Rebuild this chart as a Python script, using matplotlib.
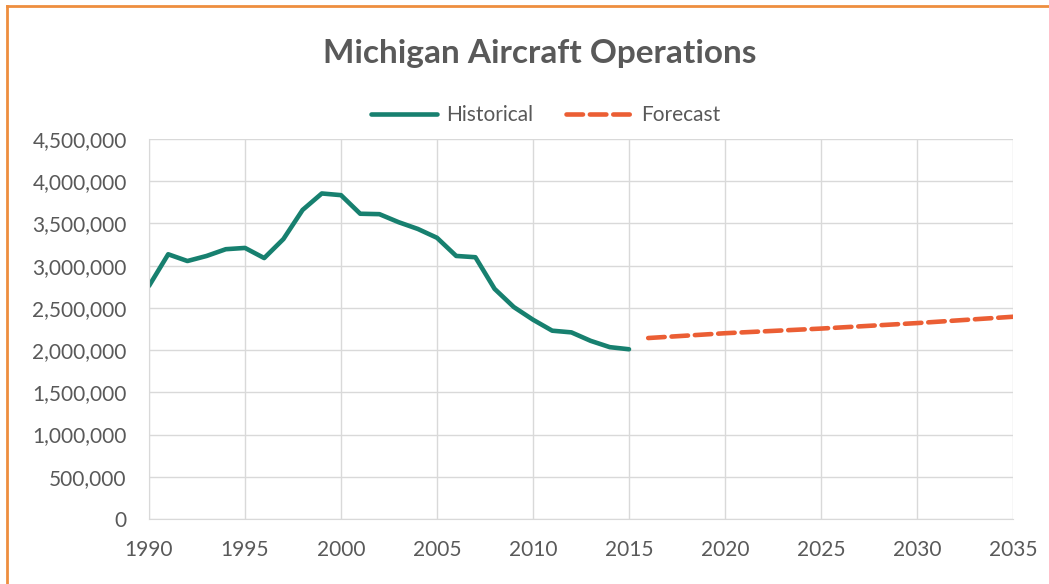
import matplotlib.pyplot as plt
from matplotlib.lines import Line2D
from matplotlib.ticker import FuncFormatter, MultipleLocator

# data
hist_years = list(range(1990, 2016))
hist_ops = [2760000, 3135000, 3055000, 3115000, 3195000, 3210000, 3090000, 3315000,
            3660000, 3855000, 3835000, 3615000, 3610000, 3515000, 3435000, 3330000,
            3115000, 3100000, 2725000, 2510000, 2360000, 2230000, 2210000, 2110000,
            2035000, 2010000]
fc_years = [2016, 2020, 2025, 2030, 2035]
fc_ops = [2143000, 2200000, 2255000, 2320000, 2395000]

grey = '#595959'
plt.rcParams['font.family'] = ['Lato', 'DejaVu Sans']

fig = plt.figure(figsize=(10.49, 5.84), dpi=100)
ax = fig.add_axes([149 / 1049, 1 - 519 / 584, (1013 - 149) / 1049, (519 - 139) / 584])

ax.plot(hist_years, hist_ops, color='#17806f', lw=3.3, label='Historical',
        solid_capstyle='round', solid_joinstyle='round')
ax.plot(fc_years, fc_ops, color='#eb5e34', lw=3.3, label='Forecast',
        dashes=(3.6, 1.5), dash_capstyle='round')

ax.set_xlim(1990, 2035)
ax.set_ylim(0, 4500000)
ax.xaxis.set_major_locator(MultipleLocator(5))
ax.yaxis.set_major_locator(MultipleLocator(500000))
ax.yaxis.set_major_formatter(FuncFormatter(lambda v, p: '{:,.0f}'.format(v)))
ax.grid(True, color='#d9d9d9', lw=1)
ax.set_axisbelow(True)
for s in ['top', 'right']:
    ax.spines[s].set_visible(False)
for s in ['left', 'bottom']:
    ax.spines[s].set_color('#d9d9d9')
ax.tick_params(length=0, labelsize=15, colors=grey)
ax.tick_params(axis='y', pad=16)
ax.tick_params(axis='x', pad=15)

fig.text(0.515, 1 - 53 / 584, 'Michigan Aircraft Operations', ha='center', va='center',
         fontsize=24, fontweight='bold', color=grey)
leg = fig.legend(loc='center', bbox_to_anchor=(0.52, 1 - 115 / 584), ncol=2,
                 frameon=False, fontsize=15, handlelength=3.2, columnspacing=1.6,
                 handletextpad=0.4)
for t in leg.get_texts():
    t.set_color(grey)

# orange frame on the top and left edge
fig.add_artist(Line2D([7 / 1049, 7 / 1049], [0, 1 - 6 / 584], transform=fig.transFigure,
                      color='#ee8e3f', lw=2))
fig.add_artist(Line2D([7 / 1049, 1], [1 - 6 / 584, 1 - 6 / 584], transform=fig.transFigure,
                      color='#ee8e3f', lw=2))

fig.savefig('out.png', dpi=100)
